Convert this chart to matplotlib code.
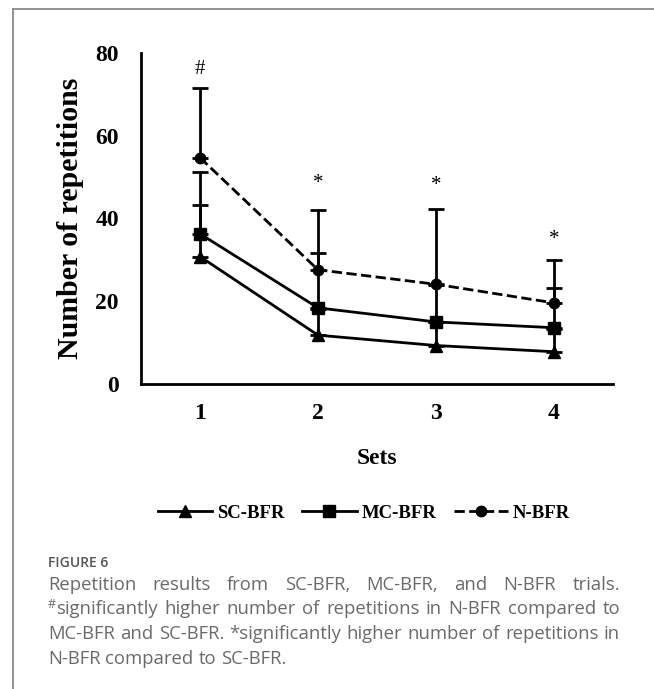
import matplotlib
matplotlib.use("Agg")
import numpy as np
import matplotlib.pyplot as plt
from matplotlib.lines import Line2D

sets = [1, 2, 3, 4]
sc_mean = [30.8, 11.8, 9.3, 7.8]
mc_mean = [36.3, 18.4, 15.0, 13.6]
n_mean = [54.7, 27.6, 24.1, 19.6]
sc_sd = [12.4, 6.4, 5.6, 5.6]
mc_sd = [15.0, 13.2, 9.0, 9.7]
n_sd = [16.8, 14.4, 18.3, 10.4]
marks = ["#", "*", "*", "*"]
mark_y = [76.0, 48.5, 48.0, 35.0]

caption_lines = [
    "Repetition results from SC-BFR, MC-BFR, and N-BFR trials.",
    "#significantly higher number of repetitions in N-BFR compared to",
    "MC-BFR and SC-BFR. *significantly higher number of repetitions in",
    "N-BFR compared to SC-BFR.",
]

W, H = 654, 689
fig = plt.figure(figsize=(W / 100, H / 100), dpi=100)
serif = "Liberation Serif"

# frame lines (left and top, grey)
fig.add_artist(Line2D([13 / W, 13 / W], [0, 1 - 9 / H], color="#8a8a8a", lw=1.3))
fig.add_artist(Line2D([13 / W, 1], [1 - 9 / H, 1 - 9 / H], color="#8a8a8a", lw=1.3))

ax = fig.add_axes([141 / W, 1 - 384 / H, (613 - 141) / W, (384 - 53) / H])
ax.set_xlim(0.5, 4.5)
ax.set_ylim(0, 80)
for s in ["top", "right"]:
    ax.spines[s].set_visible(False)
for s in ["left", "bottom"]:
    ax.spines[s].set_linewidth(2.0)
ax.tick_params(axis="y", length=0, pad=16)
ax.tick_params(axis="x", length=0, pad=14)
ax.set_xticks(sets)
ax.set_yticks([0, 20, 40, 60, 80])
for lab in ax.get_xticklabels() + ax.get_yticklabels():
    lab.set_fontfamily(serif)
    lab.set_fontweight("bold")
    lab.set_fontsize(17)

series = [
    ("SC-BFR", sc_mean, sc_sd, "^", "-", 9),
    ("MC-BFR", mc_mean, mc_sd, "s", "-", 9),
    ("N-BFR", n_mean, n_sd, "o", "--", 7.5),
]
handles = []
for name, m, sd, mk, ls, ms in series:
    eb = ax.errorbar(sets, m, yerr=[np.zeros(len(sd)), sd], color="black", lw=2,
                     ls=ls, marker=mk, ms=ms, capsize=6, capthick=2, elinewidth=2)
    eb[-1][0].set_linestyle("-")
    handles.append(Line2D([], [], color="black", lw=2, ls=ls, marker=mk, ms=ms, label=name))

for x, t, y in zip(sets, marks, mark_y):
    ax.text(x, y, t, ha="center", va="center", fontsize=15, fontfamily=serif)

ax.set_ylabel("Number of repetitions", fontsize=21.5, fontweight="bold", fontfamily=serif, labelpad=8)
ax.set_xlabel("Sets", fontsize=17, fontweight="bold", fontfamily=serif, labelpad=17)

leg = fig.legend(handles=handles, loc="center", bbox_to_anchor=(364 / W, 1 - 513 / H),
                 ncol=3, frameon=False, handlelength=2.9, handletextpad=0.25,
                 columnspacing=0.95, prop={"family": serif, "weight": "bold", "size": 13.5})

# caption
fig.text(48 / W, 1 - 567 / H, "FIGURE 6", fontsize=10, fontfamily="Open Sans",
         fontweight="semibold", color="#555555", va="baseline")

renderer = fig.canvas.get_renderer()
x_left, x_right = 48, 620
base_y = [590, 614.5, 639, 663.5]
cap_kw = dict(fontsize=13.3, fontfamily="Open Sans", color="#6a6a6a", va="baseline")


def place_word(word, x, y):
    # a leading '#' is drawn as a small superscript
    parts = []
    x2 = x
    if word.startswith("#"):
        t = fig.text(x / W, 1 - (y - 7) / H, "#", fontsize=9, fontfamily="Open Sans",
                     color="#6a6a6a", va="baseline")
        x2 = x + t.get_window_extent(renderer).width
        parts.append(t)
        word = word[1:]
    parts.append(fig.text(x2 / W, 1 - y / H, word, **cap_kw))
    return parts


sp = fig.text(0, 0, "a a", **cap_kw)
sp2 = fig.text(0, 0, "aa", **cap_kw)
space_w = sp.get_window_extent(renderer).width - sp2.get_window_extent(renderer).width
sp.remove()
sp2.remove()

for i, (line, y) in enumerate(zip(caption_lines, base_y)):
    words = line.split(" ")
    objs = [place_word(w, 0, y) for w in words]
    widths = []
    for p in objs:
        ext = [o.get_window_extent(renderer) for o in p]
        widths.append(ext[-1].x1 - ext[0].x0)
    if i < len(caption_lines) - 1:
        gap = max((x_right - x_left - sum(widths)) / (len(words) - 1), space_w * 0.7)
    else:
        gap = space_w
    x = x_left
    for p, w in zip(objs, widths):
        for o in p:
            px, py = o.get_position()
            o.set_x(px + x / W)
        x += w + gap

fig.savefig("out.png", dpi=100)
